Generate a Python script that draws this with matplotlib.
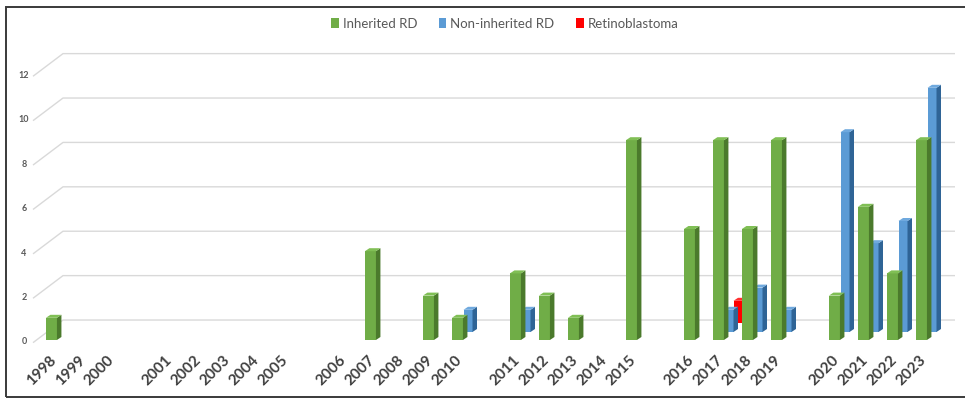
import matplotlib
matplotlib.use("Agg")
import matplotlib.pyplot as plt
from matplotlib.patches import Polygon, Patch, Rectangle

# ---------------- data ----------------
categories = ['1998', '1999', '2000', '', '2001', '2002', '2003', '2004', '2005', '',
              '2006', '2007', '2008', '2009', '2010', '', '2011', '2012', '2013', '2014',
              '2015', '', '2016', '2017', '2018', '2019', '', '2020', '2021', '2022', '2023']
inherited = [1, 0, 0, 0, 0, 0, 0, 0, 0, 0, 0, 4, 0, 2, 1, 0, 3, 2, 1, 0,
             9, 0, 5, 9, 5, 9, 0, 2, 6, 3, 9]
non_inherited = [0, 0, 0, 0, 0, 0, 0, 0, 0, 0, 0, 0, 0, 0, 1, 0, 1, 0, 0, 0,
                 0, 0, 0, 1, 2, 1, 0, 9, 4, 5, 11]
retinoblastoma = [0, 0, 0, 0, 0, 0, 0, 0, 0, 0, 0, 0, 0, 0, 0, 0, 0, 0, 0, 0,
                  0, 0, 0, 1, 0, 0, 0, 0, 0, 0, 0]
series_names = ['Inherited RD', 'Non-inherited RD', 'Retinoblastoma']
y_ticks = [0, 2, 4, 6, 8, 10, 12]

# ---------------- styling ----------------
W, H = 965, 399
PXC = 29.0      # pixels per category
PXV = 22.2      # pixels per unit value
X0, Y0 = 52.0, 340.0

fig = plt.figure(figsize=(W / 100, H / 100), dpi=100)
ax = fig.add_axes([0, 0, 1, 1])
ax.set_xlim(-X0 / PXC, (W - X0) / PXC)
ax.set_ylim((Y0 - H) / PXV, Y0 / PXV)
ax.axis('off')

grid_c = '#d9d9d9'
# back wall gridlines with left-wall slant
wall_x0 = (63 - X0) / PXC
wall_x1 = (955 - X0) / PXC
front_x = (33 - X0) / PXC
for v in y_ticks:
    yb = v + 0.9
    yf = v - 0.12
    ax.plot([front_x, wall_x0, wall_x1], [yf, yb, yb], color=grid_c, lw=1.0, zorder=1,
            solid_capstyle='butt')
    ax.text((24 - X0) / PXC, v - 0.09, str(v), ha='center', va='center',
            fontsize=6.5, color='#595959', family='Lato', fontweight='bold')

# series geometry (data units)
ddx, ddy = 4.5 / PXC, 3.0 / PXV
styles = [
    # values, center offset, base offset, width, front, side, top
    (inherited, -0.02, 0.0, 11 / PXC, '#70ad47', '#4b7a2c', '#80bf55'),
    (non_inherited, 10 / PXC, 8 / PXV, 9 / PXC, '#5b9bd5', '#2f6496', '#6fa9de'),
    (retinoblastoma, 19 / PXC, 17 / PXV, 9 / PXC, '#ff0000', '#b00000', '#ff3030'),
]

xs = list(range(len(categories)))
z = 10
for vals, xo, yo, w, cf, cs, ct in reversed(styles):
    for i, v in zip(xs, vals):
        if v <= 0:
            continue
        xc = i + xo
        xl, xr = xc - w / 2, xc + w / 2
        yb, yt = yo, yo + v
        ax.bar(xc, v, width=w, bottom=yb, color=cf, edgecolor='none', zorder=z)
        ax.add_patch(Polygon([(xr, yb), (xr + ddx, yb + ddy), (xr + ddx, yt + ddy), (xr, yt)],
                             closed=True, facecolor=cs, edgecolor='none', zorder=z))
        ax.add_patch(Polygon([(xl, yt), (xl + ddx, yt + ddy), (xr + ddx, yt + ddy), (xr, yt)],
                             closed=True, facecolor=ct, edgecolor='none', zorder=z))
    z += 1

# category labels
for i, lab in enumerate(categories):
    if not lab:
        continue
    ax.text(i - 0.1, -0.6, lab, rotation=45, ha='right', va='top',
            rotation_mode='anchor', fontsize=11, fontweight='bold',
            color='#404040', family='Lato')

# legend
handles = [Patch(facecolor=s[4], edgecolor='none') for s in styles]
fig.legend(handles, series_names, loc='center', bbox_to_anchor=(0.523, 0.94), ncol=3,
           frameon=False, handlelength=0.6, handleheight=0.8, handletextpad=0.3,
           columnspacing=1.6, prop={'family': 'Lato', 'size': 9.5},
           labelcolor='#595959')

# outer frame
fig.patches.append(Rectangle((6 / W, 2 / H), 2.0, (392 - 2) / H, transform=fig.transFigure,
                             fill=False, edgecolor='#3a3a3a', lw=1.4, zorder=100))

fig.savefig('out.png', dpi=100)
